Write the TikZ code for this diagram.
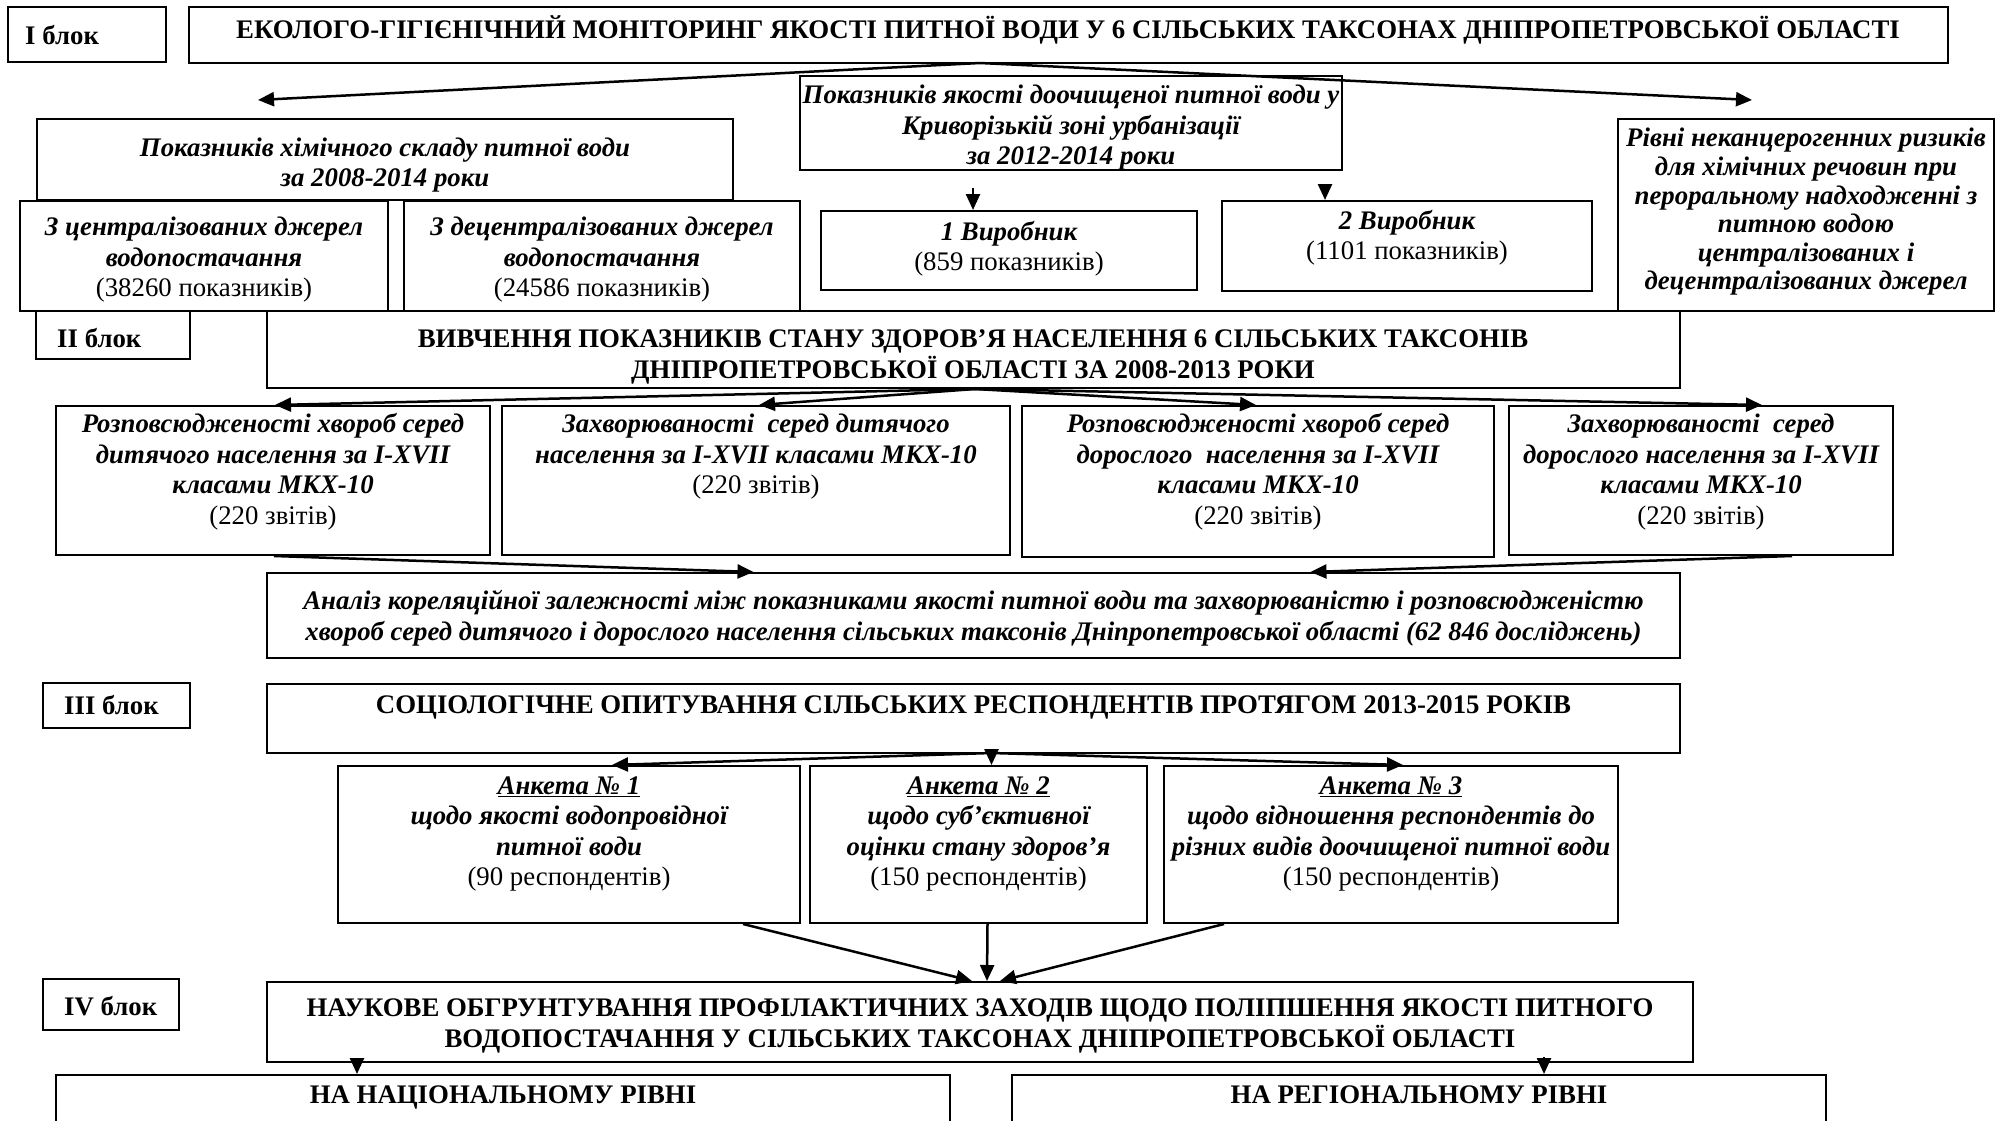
\documentclass[tikz,border=0pt]{standalone}
\usepackage{fontspec}
\setmainfont{Liberation Serif}
\usetikzlibrary{arrows.meta,fit}
\newcommand\rgl[1]{{\upshape\mdseries #1}}
\newcommand\fsz{\fontsize{26.8}{30.5}\selectfont}
\begin{document}
\begin{tikzpicture}[x=1pt,y=-1pt,
  box/.style={draw, line width=2pt, inner sep=0pt},
  hd/.style={align=center, inner sep=0pt, font=\fsz\bfseries},
  bi/.style={align=center, inner sep=0pt, font=\fsz\bfseries\itshape},
  blk/.style={anchor=west, inner sep=0pt, font=\fsz\bfseries},
  arr/.style={line width=2.5pt, -{Triangle[length=16pt,width=14pt]}}]
\useasboundingbox (0,0) rectangle (2004,1121);
\clip (0,0) rectangle (2004,1121);
\fill[white] (0,0) rectangle (2004,1121);

% ---------- Block I ----------
\node[box, fit={(8,7)(166,62)}] (b1) {};
\node[blk] (b1t) at (25,35) {I блок};
\node[box, fit={(189,7)(1948,63)}] (t1) {};
\node[hd] (t1t) at (1068,30) {ЕКОЛОГО-ГІГІЄНІЧНИЙ МОНІТОРИНГ ЯКОСТІ ПИТНОЇ ВОДИ У 6 СІЛЬСЬКИХ ТАКСОНАХ ДНІПРОПЕТРОВСЬКОЇ ОБЛАСТІ};

\node[box, fit={(37,119)(733,200)}] (chem) {};
\node[bi] (chemt) at (385,165) {Показників хімічного складу питної води\\за 2008-2014 роки};
\node[box, fit={(20,201)(388,311)}] (cen) {};
\node[bi] (cent) at (204,260) {З централізованих джерел\\водопостачання\\\rgl{(38260 показників)}};
\node[box, fit={(404,201)(800,311)}] (dec) {};
\node[bi] (dect) at (602,260) {З децентралізованих джерел\\водопостачання\\\rgl{(24586 показників)}};

\node[box, fit={(800,76)(1342,170)}] (qual) {};
\node[bi] (qualt) at (1071,128) {Показників якості доочищеної питної води у\\Криворізькій зоні урбанізації\\за 2012-2014 роки};
\node[box, fit={(821,211)(1197,290)}] (v1) {};
\node[bi] (v1t) at (1009,249) {1 Виробник\\\rgl{(859 показників)}};
\node[box, fit={(1222,201)(1592,291)}] (v2) {};
\node[bi] (v2t) at (1407,238) {2 Виробник\\\rgl{(1101 показників)}};
\node[box, fit={(1618,119)(1994,311)}] (risk) {};
\node[bi, font=\fontsize{26.8}{28.6}\selectfont\bfseries\itshape] (riskt) at (1806,212) {Рівні неканцерогенних ризиків\\для хімічних речовин при\\пероральному надходженні з\\питною водою\\централізованих і\\децентралізованих джерел};

\coordinate (s1) at (980,63);
\coordinate (e1l) at (258,100);
\coordinate (e1r) at (1752,100);
\draw[arr] (s1) -- (e1l);
\draw[arr] (s1) -- (e1r);
\coordinate (v1s) at (973,188);
\coordinate (v2s) at (1325,188);
\draw[arr] (v1s) -- (v1s |- v1.north);
\draw[arr] (v2s) -- (v2s |- v2.north);

% ---------- Block II ----------
\node[box, fit={(36,311)(190,359)}] (b2) {};
\node[blk] (b2t) at (57,338) {II блок};
\node[box, fit={(267,311)(1680,388)}] (t2) {};
\node[hd] (t2t) at (973,357) {ВИВЧЕННЯ ПОКАЗНИКІВ СТАНУ ЗДОРОВ’Я НАСЕЛЕННЯ 6 СІЛЬСЬКИХ ТАКСОНІВ\\ДНІПРОПЕТРОВСЬКОЇ ОБЛАСТІ ЗА 2008-2013 РОКИ};

\node[box, fit={(56,406)(490,555)}] (d1) {};
\node[bi] (d1t) at (273,472) {Розповсюдженості хвороб серед\\дитячого населення за I-XVII\\класами МКХ-10\\\rgl{(220 звітів)}};
\node[box, fit={(502,406)(1010,555)}] (d2) {};
\node[bi] (d2t) at (756,457) {Захворюваності~ серед дитячого\\населення за I-XVII класами МКХ-10\\\rgl{(220 звітів)}};
\node[box, fit={(1022,406)(1494,557)}] (d3) {};
\node[bi] (d3t) at (1258,472) {Розповсюдженості хвороб серед\\дорослого~ населення за I-XVII\\класами МКХ-10\\\rgl{(220 звітів)}};
\node[box, fit={(1509,406)(1893,555)}] (d4) {};
\node[bi] (d4t) at (1701,472) {Захворюваності~ серед\\дорослого населення за I-XVII\\класами МКХ-10\\\rgl{(220 звітів)}};

\coordinate (s2) at (975,389);
\draw[arr] (s2) -- ([xshift=2]d1.north);
\draw[arr] (s2) -- ([xshift=3]d2.north);
\draw[arr] (s2) -- ([xshift=-2]d3.north);
\draw[arr] (s2) -- ([xshift=61]d4.north);

\node[box, fit={(267,573)(1680,658)}] (an) {};
\node[bi] (ant) at (973.5,618) {Аналіз кореляційної залежності між показниками якості питної води та захворюваністю і розповсюдженістю\\хвороб серед дитячого і дорослого населення сільських таксонів Дніпропетровської області (62 846 досліджень)};
\draw[arr] ([xshift=1]d1.south) -- ([xshift=-220]an.north);
\draw[arr] ([xshift=91]d4.south) -- ([xshift=337]an.north);

% ---------- Block III ----------
\node[box, fit={(43,683)(190,728)}] (b3) {};
\node[blk] (b3t) at (64,705) {III блок};
\node[box, fit={(267,684)(1680,753)}] (t3) {};
\node[hd, anchor=base] (t3t) at (973.5,713) {СОЦІОЛОГІЧНЕ ОПИТУВАННЯ СІЛЬСЬКИХ РЕСПОНДЕНТІВ ПРОТЯГОМ 2013-2015 РОКІВ};

\node[box, fit={(338,766)(800,923)}] (a1) {};
\node[bi] (a1t) at (569,834) {\underline{Анкета № 1}\\щодо якості водопровідної\\питної води\\\rgl{(90 респондентів)}};
\node[box, fit={(810,766)(1147,923)}] (a2) {};
\node[bi] (a2t) at (978.5,834) {\underline{Анкета № 2}\\щодо суб’єктивної\\оцінки стану здоров’я\\\rgl{(150 респондентів)}};
\node[box, fit={(1164,766)(1618,923)}] (a3) {};
\node[bi] (a3t) at (1391,834) {\underline{Анкета № 3}\\щодо відношення респондентів до\\різних видів доочищеної питної води\\\rgl{(150 респондентів)}};

\coordinate (s3) at (991.5,753);
\draw[arr] (s3) -- ([xshift=43]a1.north);
\draw[arr] (s3) -- ([xshift=13]a2.north);
\draw[arr] (s3) -- ([xshift=12]a3.north);

% ---------- Block IV ----------
\node[box, fit={(43,979)(179,1030)}] (b4) {};
\node[blk] (b4t) at (64,1006) {IV блок};
\node[box, fit={(267,982)(1693,1062)}] (t4) {};
\node[hd] (t4t) at (980,1026) {НАУКОВЕ ОБГРУНТУВАННЯ ПРОФІЛАКТИЧНИХ ЗАХОДІВ ЩОДО ПОЛІПШЕННЯ ЯКОСТІ ПИТНОГО\\ВОДОПОСТАЧАННЯ У СІЛЬСЬКИХ ТАКСОНАХ ДНІПРОПЕТРОВСЬКОЇ ОБЛАСТІ};

\draw[arr] ([xshift=174]a1.south) -- ([xshift=-8]t4.north);
\draw[arr] ([xshift=9]a2.south) -- ([xshift=7]t4.north);
\draw[arr] ([xshift=-167]a3.south) -- ([xshift=20]t4.north);

\node[box, fit={(56,1075)(950,1160)}] (nat) {};
\node[hd, anchor=base] (natt) at (503,1103) {НА НАЦІОНАЛЬНОМУ РІВНІ};
\node[box, fit={(1012,1075)(1826,1160)}] (reg) {};
\node[hd, anchor=base] (regt) at (1419,1103) {НА РЕГІОНАЛЬНОМУ РІВНІ};

\draw[arr] ([xshift=-623]t4.south) -- ([xshift=-146]nat.north);
\draw[arr] ([xshift=564,yshift=6]t4.south) -- ([xshift=125]reg.north);
\end{tikzpicture}
\end{document}
